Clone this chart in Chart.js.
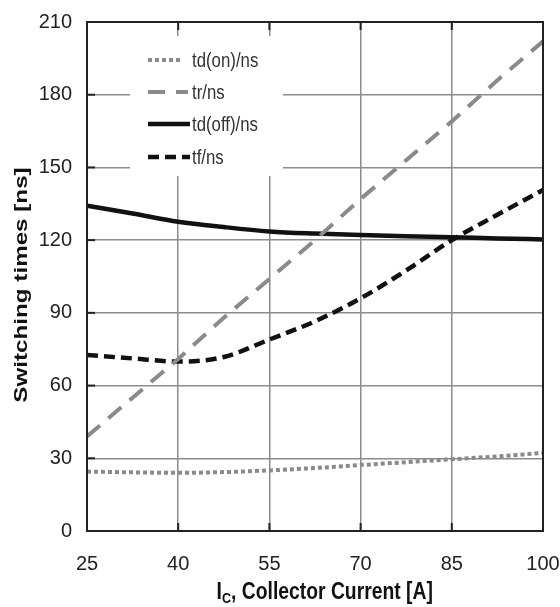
<!DOCTYPE html>
<html lang="en">
<head>
<meta charset="UTF-8">
<title>Switching times vs collector current</title>
<script src="https://cdn.jsdelivr.net/npm/chart.js"></script>
<style>
  html, body { margin: 0; padding: 0; background: #fff; }
  #wrap { position: relative; width: 560px; height: 607px; overflow: hidden; }
  #xtitle {
    position: absolute; left: 87px; width: 456px; padding-left: 19px; box-sizing: border-box; top: 578px;
    text-align: center; color: #111; line-height: 26px;
  }
  #xtitle span {
    display: inline-block; transform: scaleX(0.84); transform-origin: center;
    font: bold 23px "Liberation Sans", Arial, sans-serif; white-space: nowrap;
  }
  #xtitle sub { font-size: 15px; vertical-align: -4px; line-height: 0; }
</style>
</head>
<body>
<div id="wrap">
  <canvas id="chart" width="560" height="607"></canvas>
  <div id="xtitle"><span>I<sub>C</sub>, Collector Current [A]</span></div>
</div>
<script>
// collector current (A)
const currents = [25, 32.5, 40, 47.5, 55, 62.5, 70, 77.5, 85, 92.5, 100];
// switching times in ns
const tdOn  = [24.5, 24.2, 24.0, 24.3, 25.0, 26.0, 27.2, 28.4, 29.6, 30.8, 32.2];
const tr    = [39, 55, 71, 88, 104, 120, 137, 153, 169, 186, 202];
const tdOff = [134.2, 131.0, 127.6, 125.4, 123.6, 122.7, 122.1, 121.6, 121.2, 120.7, 120.3];
const tf    = [72.6, 71.2, 69.9, 71.8, 79.0, 86.5, 96.0, 107.5, 120.0, 130.5, 140.7];
const xTicks = [25, 40, 55, 70, 85, 100];
const yTicks = [0, 30, 60, 90, 120, 150, 180, 210];
const yTitle = 'Switching times [ns]';

const sans = '"Liberation Sans", Arial, sans-serif';
const pts = arr => arr.map((v, i) => ({ x: currents[i], y: v }));

// inner tick marks, frame, boxed legend and the y title
const decorPlugin = {
  id: 'decor',
  afterDatasetsDraw(chart) {
    const ctx = chart.ctx, a = chart.chartArea;
    const xs = chart.scales.x, ys = chart.scales.y;
    ctx.save();
    ctx.strokeStyle = '#222';
    ctx.lineWidth = 2;
    xTicks.forEach(t => {
      const px = xs.getPixelForValue(t);
      ctx.beginPath(); ctx.moveTo(px, a.bottom); ctx.lineTo(px, a.bottom - 8); ctx.stroke();
      ctx.beginPath(); ctx.moveTo(px, a.top); ctx.lineTo(px, a.top + 8); ctx.stroke();
    });
    yTicks.forEach(t => {
      const py = ys.getPixelForValue(t);
      ctx.beginPath(); ctx.moveTo(a.left, py); ctx.lineTo(a.left + 8, py); ctx.stroke();
    });
    // legend box
    ctx.fillStyle = '#fff';
    ctx.fillRect(130, 36, 153, 140);
    const rows = [60, 92, 124, 157];
    const ends = [183, 188, 190, 190];
    chart.data.datasets.forEach((ds, i) => {
      const y = rows[i];
      ctx.beginPath();
      ctx.strokeStyle = ds.borderColor;
      ctx.lineWidth = ds.borderWidth;
      ctx.setLineDash(ds.borderDash || []);
      ctx.moveTo(148, y); ctx.lineTo(ends[i], y);
      ctx.stroke();
      ctx.setLineDash([]);
      ctx.save();
      ctx.translate(192, y + 1);
      ctx.scale(0.84, 1);
      ctx.fillStyle = '#333';
      ctx.font = '20px ' + sans;
      ctx.textBaseline = 'middle';
      ctx.fillText(ds.label, 0, 0);
      ctx.restore();
    });
    // frame
    ctx.strokeStyle = '#222';
    ctx.lineWidth = 2;
    ctx.strokeRect(a.left, a.top, a.right - a.left, a.bottom - a.top);
    // y axis title
    ctx.translate(22, 285);
    ctx.rotate(-Math.PI / 2);
    ctx.scale(1.1, 0.85);
    ctx.fillStyle = '#111';
    ctx.font = 'bold 22px ' + sans;
    ctx.textAlign = 'center';
    ctx.textBaseline = 'middle';
    ctx.fillText(yTitle, 0, 0);
    ctx.restore();
  }
};

new Chart(document.getElementById('chart'), {
  type: 'line',
  data: {
    datasets: [
      { label: 'td(on)/ns', data: pts(tdOn), borderColor: '#8a8a8a', borderWidth: 4, borderDash: [4, 3], cubicInterpolationMode: 'monotone' },
      { label: 'tr/ns', data: pts(tr), borderColor: '#8a8a8a', borderWidth: 4, borderDash: [17, 11] },
      { label: 'td(off)/ns', data: pts(tdOff), borderColor: '#111', borderWidth: 4.5, cubicInterpolationMode: 'monotone' },
      { label: 'tf/ns', data: pts(tf), borderColor: '#111', borderWidth: 4.5, borderDash: [11, 6], cubicInterpolationMode: 'monotone' }
    ]
  },
  options: {
    responsive: false,
    animation: false,
    elements: { point: { radius: 0 } },
    layout: { padding: { top: 22, right: 17, left: 0, bottom: 0 } },
    plugins: { legend: { display: false }, tooltip: { enabled: false } },
    scales: {
      x: {
        type: 'linear', min: 25, max: 100,
        afterBuildTicks: s => { s.ticks = xTicks.map(v => ({ value: v })); },
        afterFit: s => { s.height = 76; s.paddingLeft = 0; s.paddingRight = 0; },
        grid: { color: '#8c8c8c', lineWidth: 1.5, drawTicks: false },
        border: { display: false },
        ticks: { padding: 21, color: '#222', font: { size: 20, family: sans } }
      },
      y: {
        min: 0, max: 210,
        afterBuildTicks: s => { s.ticks = yTicks.map(v => ({ value: v })); },
        afterFit: s => { s.width = 87; s.paddingTop = 0; s.paddingBottom = 0; },
        grid: { color: '#8c8c8c', lineWidth: 1.5, drawTicks: false },
        border: { display: false },
        ticks: { padding: 15, color: '#222', font: { size: 20, family: sans } }
      }
    }
  },
  plugins: [decorPlugin]
});
</script>
</body>
</html>
